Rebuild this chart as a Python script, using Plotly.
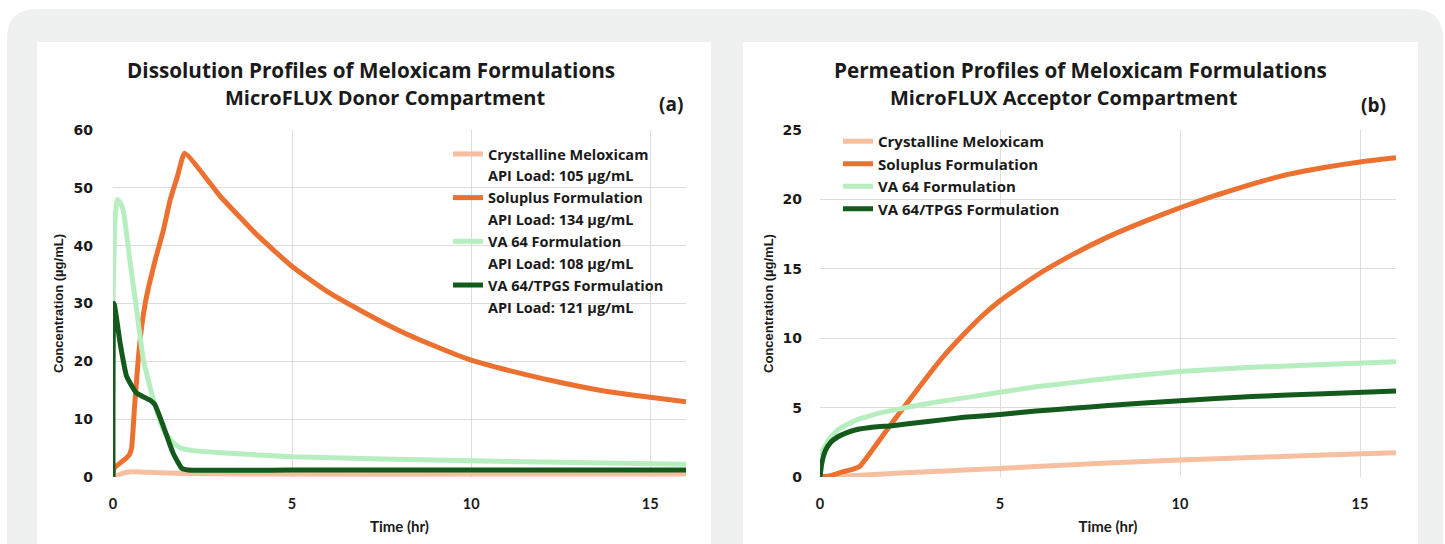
import plotly.graph_objects as go

# ---------------- Data ----------------
names = ["Crystalline Meloxicam", "Soluplus Formulation", "VA 64 Formulation", "VA 64/TPGS Formulation"]
api_loads = ["API Load: 105 µg/mL", "API Load: 134 µg/mL", "API Load: 108 µg/mL", "API Load: 121 µg/mL"]
colors = ["#f5bfa0", "#ec7030", "#b6eec0", "#145a1c"]

# (a) Donor compartment
don_cryst_t = [0, 0.25, 0.5, 1, 2, 5, 10, 16]
don_cryst_c = [0, 0.6, 0.9, 0.8, 0.6, 0.5, 0.5, 0.5]

don_solu_t = [0, 0.03, 0.3, 0.45, 0.52, 0.6, 0.7, 0.8, 0.9, 1.0, 1.2, 1.4, 1.6, 1.8, 2.0,
              3, 4, 5, 6, 7, 8, 9, 10, 11, 12, 13, 14, 15, 16]
don_solu_c = [0, 1.5, 2.9, 3.8, 5.0, 12, 20, 26, 30, 33, 38, 42.5, 48, 52, 56,
              48.5, 42, 36.4, 32, 28.5, 25.3, 22.6, 20.2, 18.5, 17, 15.7, 14.6, 13.8, 13.0]

don_va64_t = [0, 0.06, 0.12, 0.2, 0.29, 0.47, 0.66, 0.85, 1.13, 1.41, 1.7, 1.9, 2.2, 3, 5, 10, 15, 16]
don_va64_c = [30, 45, 48, 47.5, 46, 37.5, 28.9, 20.2, 13.3, 8.1, 5.8, 5.0, 4.6, 4.2, 3.5, 2.8, 2.3, 2.2]

don_tpgs_t = [0, 0.03, 0.2, 0.38, 0.66, 1.03, 1.17, 1.41, 1.68, 1.92, 2.1, 5, 10, 16]
don_tpgs_c = [0, 30, 23.1, 17.4, 14.5, 13.3, 12.5, 8.7, 4.1, 1.5, 1.2, 1.2, 1.2, 1.2]

# (b) Acceptor compartment
acc_cryst_t = [0, 1, 2, 3, 4, 5, 6, 8, 10, 12, 14, 16]
acc_cryst_c = [0, 0.1, 0.25, 0.38, 0.5, 0.62, 0.75, 1.0, 1.22, 1.4, 1.58, 1.75]

acc_solu_t = [0, 0.3, 0.6, 0.9, 1.1, 1.5, 2, 2.5, 3, 3.5, 4, 4.5, 5, 6, 7, 8, 9, 10, 11, 12, 13, 14, 15, 16]
acc_solu_c = [0, 0.1, 0.35, 0.55, 0.75, 2.1, 3.9, 5.6, 7.3, 8.9, 10.3, 11.6, 12.7, 14.5, 16.0, 17.3, 18.4,
              19.4, 20.3, 21.1, 21.8, 22.3, 22.7, 23.0]

acc_va64_t = [0, 0.25, 0.5, 1, 1.5, 2, 3, 4, 5, 6, 7, 8, 10, 12, 14, 16]
acc_va64_c = [1.6, 2.7, 3.4, 4.1, 4.5, 4.8, 5.3, 5.7, 6.1, 6.5, 6.8, 7.1, 7.6, 7.9, 8.1, 8.3]

acc_tpgs_t = [0, 0.05, 0.15, 0.3, 0.5, 0.75, 1, 1.5, 2, 3, 4, 5, 6, 7, 8, 10, 12, 14, 16]
acc_tpgs_c = [0, 1.0, 1.9, 2.5, 2.9, 3.2, 3.4, 3.6, 3.7, 4.0, 4.3, 4.5, 4.75, 4.95, 5.15, 5.5, 5.8, 6.0, 6.2]

x_ticks = [0, 5, 10, 15]
left_y_ticks = [0, 10, 20, 30, 40, 50, 60]
right_y_ticks = [0, 5, 10, 15, 20, 25]

# ---------------- Figure ----------------
W, H = 1445, 544
fig = go.Figure()

donor = [(don_cryst_t, don_cryst_c), (don_solu_t, don_solu_c), (don_va64_t, don_va64_c), (don_tpgs_t, don_tpgs_c)]
accept = [(acc_cryst_t, acc_cryst_c), (acc_solu_t, acc_solu_c), (acc_va64_t, acc_va64_c), (acc_tpgs_t, acc_tpgs_c)]

for i, (t, c) in enumerate(donor):
    fig.add_trace(go.Scatter(x=t, y=c, mode="lines", name=names[i],
                             line=dict(color=colors[i], width=5, shape="spline", smoothing=0.4),
                             xaxis="x", yaxis="y", legend="legend", legendrank=2 * i))
    # second legend line (API load) without a symbol
    fig.add_trace(go.Scatter(x=[None], y=[None], mode="lines", name=api_loads[i],
                             line=dict(color="rgba(0,0,0,0)", width=5), hoverinfo="skip",
                             xaxis="x", yaxis="y", legend="legend", legendrank=2 * i + 1))
for i, (t, c) in enumerate(accept):
    fig.add_trace(go.Scatter(x=t, y=c, mode="lines", name=names[i],
                             line=dict(color=colors[i], width=5, shape="spline", smoothing=0.4),
                             xaxis="x2", yaxis="y2", legend="legend2"))

def px(x):
    return x / W

def py(y):
    return 1 - y / H

ink = "#1a1a1a"
ytick_font = dict(family="DejaVu Sans, sans-serif", size=14, color=ink, weight="bold")
xtick_font = dict(family="Lato, sans-serif", size=14.5, color=ink, weight="bold")
grid = "#dcdcdc"
ytitle_font = dict(family="Liberation Sans, Arial, sans-serif", size=13, color=ink, weight="bold")

common_x = dict(range=[0, 16], tickvals=x_ticks, showgrid=True, gridcolor=grid, gridwidth=1,
                zeroline=False, showline=False, ticks="", tickfont=xtick_font, ticklabelstandoff=16,
                automargin=False,
                title=dict(text="Time (hr)", font=dict(family="Lato, sans-serif", size=15, color=ink, weight="bold"), standoff=10))

fig.update_layout(
    xaxis=dict(domain=[px(113), px(686)], anchor="y", **common_x),
    yaxis=dict(domain=[py(477), py(130)], anchor="x", range=[0, 60], tickvals=left_y_ticks,
               showgrid=True, gridcolor=grid, zeroline=False, showline=False, ticks="",
               tickfont=ytick_font, ticklabelstandoff=19, automargin=False,
               title=dict(text="Concentration (µg/mL)", font=ytitle_font, standoff=6)),
    xaxis2=dict(domain=[px(820), px(1396)], anchor="y2", **common_x),
    yaxis2=dict(domain=[py(477), py(130)], anchor="x2", range=[0, 25], tickvals=right_y_ticks,
                showgrid=True, gridcolor=grid, zeroline=False, showline=False, ticks="",
                tickfont=ytick_font, ticklabelstandoff=17, automargin=False,
                title=dict(text="Concentration (µg/mL)", font=ytitle_font, standoff=5)),
    width=W, height=H,
    margin=dict(l=0, r=0, t=0, b=0, autoexpand=False),
    paper_bgcolor="white",
    plot_bgcolor="white",
    showlegend=True,
    legend=dict(x=px(448), y=py(138), xanchor="left", yanchor="top", bgcolor="rgba(255,255,255,0)",
                font=dict(family="Open Sans, sans-serif", size=14.5, color=ink, weight="bold"),
                itemwidth=30, tracegroupgap=0, traceorder="normal"),
    legend2=dict(x=px(838), y=py(125), xanchor="left", yanchor="top", bgcolor="rgba(255,255,255,0)",
                 font=dict(family="Open Sans, sans-serif", size=15, color=ink, weight="bold"),
                 itemwidth=30, tracegroupgap=0),
)

# Background panels
r = 30
gx0, gy0, gx1, gy1 = 7, 9, 1443, 560
path = (f"M {px(gx0)} {py(gy0 + r)} Q {px(gx0)} {py(gy0)} {px(gx0 + r)} {py(gy0)} "
        f"L {px(gx1 - r)} {py(gy0)} Q {px(gx1)} {py(gy0)} {px(gx1)} {py(gy0 + r)} "
        f"L {px(gx1)} {py(gy1)} L {px(gx0)} {py(gy1)} Z")
fig.add_shape(type="path", path=path, xref="paper", yref="paper", fillcolor="#eff1f1",
              line=dict(width=0), layer="below")
for (a, b) in [(37, 711), (743, 1418)]:
    fig.add_shape(type="rect", x0=px(a), x1=px(b), y0=py(560), y1=py(42), xref="paper", yref="paper",
                  fillcolor="white", line=dict(width=0), layer="below")

# Titles
ttl = dict(family="Open Sans, sans-serif", color=ink, weight="bold")
annots = [
    ("Dissolution Profiles of Meloxicam Formulations", 371, 70, 20.7),
    ("MicroFLUX Donor Compartment", 385, 97, 20),
    ("(a)", 671, 104, 19),
    ("Permeation Profiles of Meloxicam Formulations", 1080, 70, 20.7),
    ("MicroFLUX Acceptor Compartment", 1064, 97, 20),
    ("(b)", 1373, 105, 19),
]
for text, x, y, s in annots:
    fig.add_annotation(text=text, x=px(x), y=py(y), xref="paper", yref="paper", showarrow=False,
                       xanchor="center", yanchor="middle", font=dict(size=s, **ttl))

fig.write_html("out.html")
